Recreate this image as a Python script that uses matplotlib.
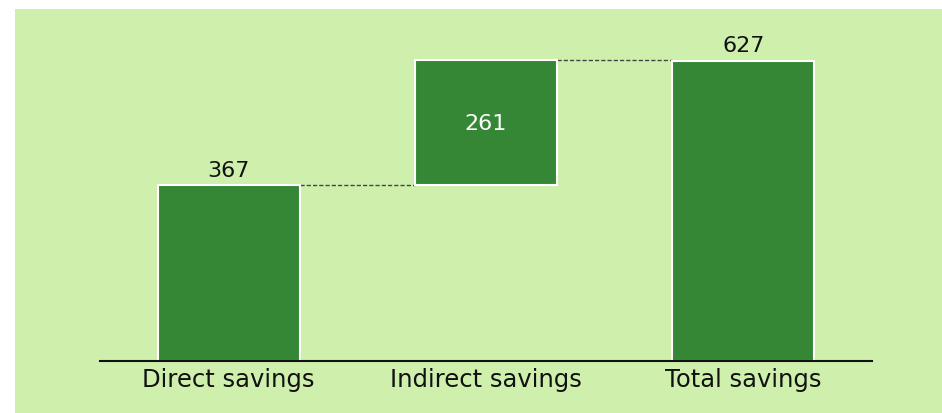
import numpy as np
import matplotlib
matplotlib.use('Agg')
from matplotlib import pyplot as plt

categories = ['Direct savings', 'Indirect savings', 'Total savings']
values = [367, 261, 627]
is_total = [False, False, True]

bg_color = '#cff0ad'
bar_color = '#358735'

# waterfall bottoms
bottoms = []
running = 0
for v, tot in zip(values, is_total):
    if tot:
        bottoms.append(0)
        running = v
    else:
        bottoms.append(running)
        running += v
tops = [b + v for b, v in zip(bottoms, values)]

plt.rcParams['font.family'] = ['DejaVu Sans']

fig = plt.figure(figsize=(9.42, 4.14), dpi=100)

# green panel behind the chart
bg = fig.add_axes([15 / 942, 0, 1 - 15 / 942, 1 - 10 / 414], zorder=-1)
bg.set_facecolor(bg_color)
bg.set_xticks([])
bg.set_yticks([])
for s in bg.spines.values():
    s.set_visible(False)

ax = fig.add_axes([100 / 942, 52 / 414, 772 / 942, 352 / 414], zorder=1)
ax.set_facecolor('none')

x = np.arange(len(categories))
width = 0.553
ax.bar(x, values, width=width, bottom=bottoms, color=bar_color, edgecolor='white',
       linewidth=1.5, zorder=3)

# connectors
for i in range(len(values) - 1):
    ax.plot([x[i] + width / 2, x[i + 1] - width / 2], [tops[i], tops[i]],
            linestyle=(0, (3, 1.5)), color='#444444', linewidth=1.0, zorder=2)

# value labels
for i, (b, v, t) in enumerate(zip(bottoms, values, tops)):
    if is_total[i] or b == 0:
        ax.annotate(f'{v}', (x[i], t), xytext=(0, 7), textcoords='offset points',
                    ha='center', va='baseline', fontsize=16, color='#111111')
    else:
        ax.text(x[i], b + v / 2, f'{v}', ha='center', va='center', fontsize=16, color='white')

ax.set_xlim(-0.5, 2.5)
ax.set_ylim(0, 735)
ax.set_xticks(x)
ax.set_xticklabels(categories, fontsize=17.5, color='#111111')
ax.tick_params(axis='x', length=0, pad=4)
ax.set_yticks([])
for side in ['top', 'right', 'left']:
    ax.spines[side].set_visible(False)
ax.spines['bottom'].set_linewidth(1.5)
ax.spines['bottom'].set_color('#111111')
ax.spines['bottom'].set_zorder(4)

plt.savefig('out.png', dpi=100)
